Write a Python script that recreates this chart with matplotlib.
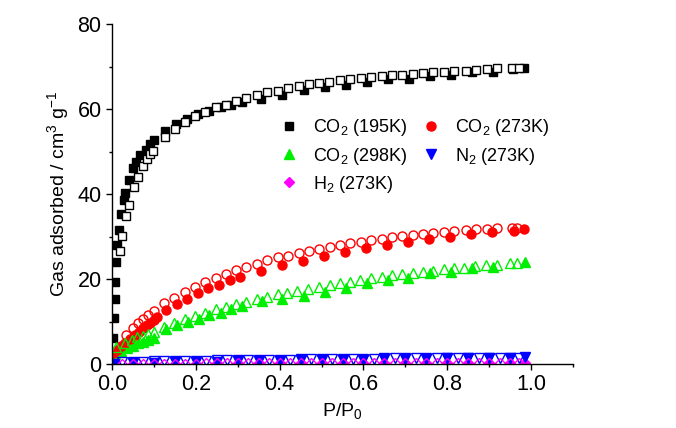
import matplotlib
matplotlib.use("Agg")
import matplotlib.pyplot as plt
from matplotlib.ticker import MultipleLocator

plt.rcParams["font.family"] = ["Liberation Sans", "DejaVu Sans"]
plt.rcParams["mathtext.fontset"] = "custom"
plt.rcParams["mathtext.rm"] = "Liberation Sans"

# CO2 195 K (adsorption = filled, desorption = open)
co2_195_ads_x = [0.003, 0.005, 0.006, 0.008, 0.010, 0.013, 0.016, 0.021, 0.029, 0.032,
                 0.040, 0.051, 0.057, 0.067, 0.080, 0.091, 0.101, 0.126, 0.153, 0.180,
                 0.206, 0.232, 0.259, 0.284, 0.309, 0.355, 0.405, 0.457, 0.507, 0.558,
                 0.608, 0.658, 0.708, 0.759, 0.809, 0.859, 0.909, 0.957, 0.983]
co2_195_ads_y = [6.1, 10.8, 15.2, 19.4, 24.1, 27.9, 31.5, 35.2, 38.7, 40.3,
                 43.3, 46.2, 47.6, 49.1, 50.4, 51.8, 52.8, 54.8, 56.4, 57.6,
                 58.9, 59.6, 60.4, 60.9, 61.6, 62.4, 63.4, 64.5, 65.1, 65.7,
                 66.3, 67.0, 67.1, 67.7, 68.1, 68.7, 68.8, 69.4, 69.6]
co2_195_des_x = [0.019, 0.024, 0.033, 0.041, 0.052, 0.061, 0.073, 0.084, 0.091, 0.097,
                 0.126, 0.150, 0.174, 0.198, 0.222, 0.247, 0.272, 0.295, 0.319, 0.345,
                 0.369, 0.395, 0.419, 0.445, 0.470, 0.494, 0.518, 0.543, 0.568, 0.594,
                 0.618, 0.644, 0.669, 0.693, 0.718, 0.741, 0.767, 0.793, 0.817, 0.844,
                 0.869, 0.894, 0.918, 0.955, 0.970]
co2_195_des_y = [26.7, 30.2, 34.9, 37.5, 41.6, 44.1, 46.7, 48.2, 49.4, 50.2,
                 53.5, 55.4, 56.9, 58.3, 59.4, 60.4, 61.0, 62.0, 62.7, 63.3,
                 63.9, 64.3, 64.9, 65.3, 65.8, 66.2, 66.4, 66.8, 67.1, 67.3,
                 67.6, 67.8, 68.1, 68.1, 68.3, 68.5, 68.6, 68.7, 68.9, 68.9,
                 69.2, 69.4, 69.7, 69.6, 69.6]

# CO2 273 K
co2_273_ads_x = [0.003, 0.011, 0.021, 0.031, 0.043, 0.055, 0.065, 0.075, 0.083, 0.091,
                 0.099, 0.107, 0.129, 0.154, 0.180, 0.204, 0.230, 0.256, 0.282, 0.305,
                 0.355, 0.405, 0.455, 0.506, 0.556, 0.606, 0.657, 0.707, 0.757, 0.807,
                 0.857, 0.906, 0.958, 0.983]
co2_273_ads_y = [2.5, 3.4, 4.2, 5.0, 6.0, 6.8, 7.6, 8.4, 9.2, 9.7,
                 10.3, 11.1, 12.7, 14.1, 15.4, 16.6, 17.8, 18.6, 19.8, 20.5,
                 22.0, 23.3, 24.3, 25.4, 26.4, 27.2, 28.0, 28.8, 29.3, 29.9,
                 30.6, 31.1, 31.3, 31.8]
co2_273_des_x = [0.033, 0.051, 0.063, 0.073, 0.085, 0.099, 0.123, 0.148, 0.173, 0.198,
                 0.222, 0.247, 0.271, 0.296, 0.320, 0.345, 0.369, 0.395, 0.419, 0.445,
                 0.469, 0.495, 0.520, 0.544, 0.568, 0.594, 0.618, 0.644, 0.669, 0.693,
                 0.718, 0.743, 0.767, 0.792, 0.817, 0.844, 0.869, 0.894, 0.918, 0.955,
                 0.967]
co2_273_des_y = [6.8, 8.4, 9.7, 10.6, 11.5, 12.5, 14.3, 15.6, 16.9, 18.2,
                 19.3, 20.3, 21.2, 22.1, 22.9, 23.5, 24.5, 25.1, 25.4, 26.2,
                 26.6, 27.0, 27.6, 28.0, 28.4, 28.8, 29.2, 29.3, 29.8, 30.1,
                 30.4, 30.7, 30.9, 31.1, 31.2, 31.5, 31.7, 31.8, 31.9, 31.9,
                 32.1]

# CO2 298 K
co2_298_ads_x = [0.007, 0.021, 0.035, 0.049, 0.063, 0.075, 0.087, 0.099, 0.130, 0.156,
                 0.182, 0.208, 0.232, 0.259, 0.284, 0.310, 0.357, 0.406, 0.457, 0.507,
                 0.558, 0.608, 0.658, 0.707, 0.759, 0.809, 0.859, 0.909, 0.985]
co2_298_ads_y = [2.3, 3.1, 3.7, 4.2, 4.9, 5.2, 5.6, 6.2, 8.2, 9.2,
                 10.0, 10.7, 11.5, 12.1, 12.9, 13.6, 14.9, 15.3, 16.0, 17.0,
                 17.8, 19.0, 19.8, 20.3, 21.3, 21.7, 22.5, 22.9, 24.1]
co2_298_des_x = [0.010, 0.031, 0.047, 0.060, 0.073, 0.087, 0.099, 0.123, 0.148, 0.173,
                 0.198, 0.222, 0.247, 0.272, 0.296, 0.320, 0.345, 0.369, 0.395, 0.417,
                 0.441, 0.467, 0.494, 0.519, 0.544, 0.568, 0.592, 0.617, 0.644, 0.667,
                 0.691, 0.717, 0.742, 0.765, 0.791, 0.815, 0.841, 0.866, 0.893, 0.918,
                 0.950, 0.966]
co2_298_des_y = [4.1, 4.9, 5.6, 6.3, 6.6, 7.1, 7.6, 8.8, 9.7, 10.5,
                 11.3, 12.1, 12.9, 13.3, 14.1, 14.7, 15.2, 15.8, 16.4, 16.6,
                 17.2, 17.6, 18.2, 18.6, 19.0, 19.4, 19.8, 20.3, 20.5, 20.9,
                 21.2, 21.5, 21.7, 22.0, 22.3, 22.5, 22.7, 23.1, 23.3, 23.4,
                 23.7, 23.8]

# N2 273 K
n2_ads_x = [0.005, 0.05, 0.10, 0.15, 0.20, 0.25, 0.30, 0.35, 0.40, 0.45,
            0.50, 0.55, 0.60, 0.65, 0.70, 0.75, 0.80, 0.85, 0.90, 0.95, 0.985]
n2_ads_y = [0.1, 0.2, 0.3, 0.4, 0.5, 0.55, 0.6, 0.7, 0.75, 0.85,
            0.9, 1.0, 1.05, 1.1, 1.15, 1.2, 1.3, 1.35, 1.4, 1.45, 1.6]
n2_des_x = [0.025, 0.05, 0.075, 0.10, 0.125, 0.15, 0.175, 0.20, 0.225, 0.25,
            0.275, 0.30, 0.325, 0.35, 0.375, 0.40, 0.425, 0.45, 0.475, 0.50,
            0.525, 0.55, 0.575, 0.60, 0.625, 0.65, 0.675, 0.70, 0.725, 0.75,
            0.775, 0.80, 0.825, 0.85, 0.875, 0.90, 0.925, 0.95, 0.97]
n2_des_y = [0.4, 0.5, 0.55, 0.6, 0.65, 0.7, 0.7, 0.75, 0.8, 0.85,
            0.85, 0.9, 0.95, 0.95, 1.0, 1.0, 1.05, 1.1, 1.1, 1.15,
            1.15, 1.2, 1.2, 1.25, 1.25, 1.3, 1.3, 1.3, 1.35, 1.35,
            1.4, 1.4, 1.4, 1.45, 1.45, 1.45, 1.5, 1.5, 1.5]

# H2 273 K
h2_ads_x = [0.005, 0.05, 0.10, 0.15, 0.20, 0.25, 0.30, 0.35, 0.40, 0.45,
            0.50, 0.55, 0.60, 0.65, 0.70, 0.75, 0.80, 0.85, 0.90, 0.95, 0.985]
h2_ads_y = [0.05, 0.05, 0.05, 0.1, 0.1, 0.1, 0.1, 0.15, 0.15, 0.15,
            0.2, 0.2, 0.2, 0.2, 0.25, 0.25, 0.25, 0.3, 0.3, 0.3, 0.3]
h2_des_x = n2_des_x
h2_des_y = [0.1, 0.1, 0.1, 0.1, 0.1, 0.1, 0.1, 0.1, 0.15, 0.15,
            0.15, 0.15, 0.15, 0.15, 0.15, 0.2, 0.2, 0.2, 0.2, 0.2,
            0.2, 0.2, 0.2, 0.25, 0.25, 0.25, 0.25, 0.25, 0.25, 0.25,
            0.3, 0.3, 0.3, 0.3, 0.3, 0.3, 0.3, 0.3, 0.3]

fig = plt.figure(figsize=(6.76, 4.28), dpi=100)
ax = fig.add_axes([0.1657, 0.1495, 0.682, 0.7944])

ms = 6
# adsorption (filled)
ax.plot(co2_195_ads_x, co2_195_ads_y, "s", color="black", ms=ms, ls="none",
        label="CO$\\mathregular{_2}$ (195K)")
ax.plot(co2_298_ads_x, co2_298_ads_y, "^", color="#00ee00", ms=ms + 1, ls="none",
        label="CO$\\mathregular{_2}$ (298K)")
ax.plot(h2_ads_x, h2_ads_y, "D", color="#ff00ff", ms=ms - 1, ls="none",
        label="H$\\mathregular{_2}$ (273K)")
ax.plot(co2_273_ads_x, co2_273_ads_y, "o", color="#ff0000", ms=ms + 0.5, ls="none",
        label="CO$\\mathregular{_2}$ (273K)")
ax.plot(n2_ads_x, n2_ads_y, "v", color="#0000ff", ms=ms + 1, ls="none",
        label="N$\\mathregular{_2}$ (273K)")

# desorption (open)
ax.plot(co2_195_des_x, co2_195_des_y, "s", mfc="white", mec="black", mew=1, ms=ms, ls="none")
ax.plot(co2_273_des_x, co2_273_des_y, "o", mfc="none", mec="#ff0000", mew=1, ms=ms + 0.5, ls="none")
ax.plot(co2_298_des_x, co2_298_des_y, "^", mfc="none", mec="#00ee00", mew=1, ms=ms + 1, ls="none")
ax.plot(n2_des_x, n2_des_y, "v", mfc="none", mec="#0000ff", mew=1, ms=ms + 1, ls="none")
ax.plot(h2_des_x, h2_des_y, "D", mfc="none", mec="#ff00ff", mew=1, ms=ms - 1, ls="none")

ax.set_xlim(0, 1.1)
ax.set_ylim(0, 80)
ax.xaxis.set_major_locator(MultipleLocator(0.2))
ax.xaxis.set_minor_locator(MultipleLocator(0.1))
ax.yaxis.set_major_locator(MultipleLocator(20))
ax.yaxis.set_minor_locator(MultipleLocator(10))
ax.set_xticks([0, 0.2, 0.4, 0.6, 0.8, 1.0])
ax.set_xticklabels(["0.0", "0.2", "0.4", "0.6", "0.8", "1.0"])

for s in ["top", "right"]:
    ax.spines[s].set_visible(False)
for s in ["left", "bottom"]:
    ax.spines[s].set_linewidth(1.0)
ax.tick_params(which="major", direction="out", length=4.5, width=1.0, labelsize=15.5, pad=3)
ax.tick_params(which="minor", direction="out", length=2.5, width=1.0)

ax.set_xlabel("P/P$\\mathregular{_0}$", fontsize=14, labelpad=4)
ax.set_ylabel("Gas adsorbed / cm$\\mathregular{^3}$ g$\\mathregular{^{-1}}$", fontsize=14, labelpad=5)

ax.legend(ncol=2, frameon=False, fontsize=13, loc="upper left",
          bbox_to_anchor=(0.345, 0.752), handletextpad=0.85, columnspacing=0.75,
          labelspacing=0.4, handlelength=1.0, borderpad=0)

fig.savefig("out.png", dpi=100)
